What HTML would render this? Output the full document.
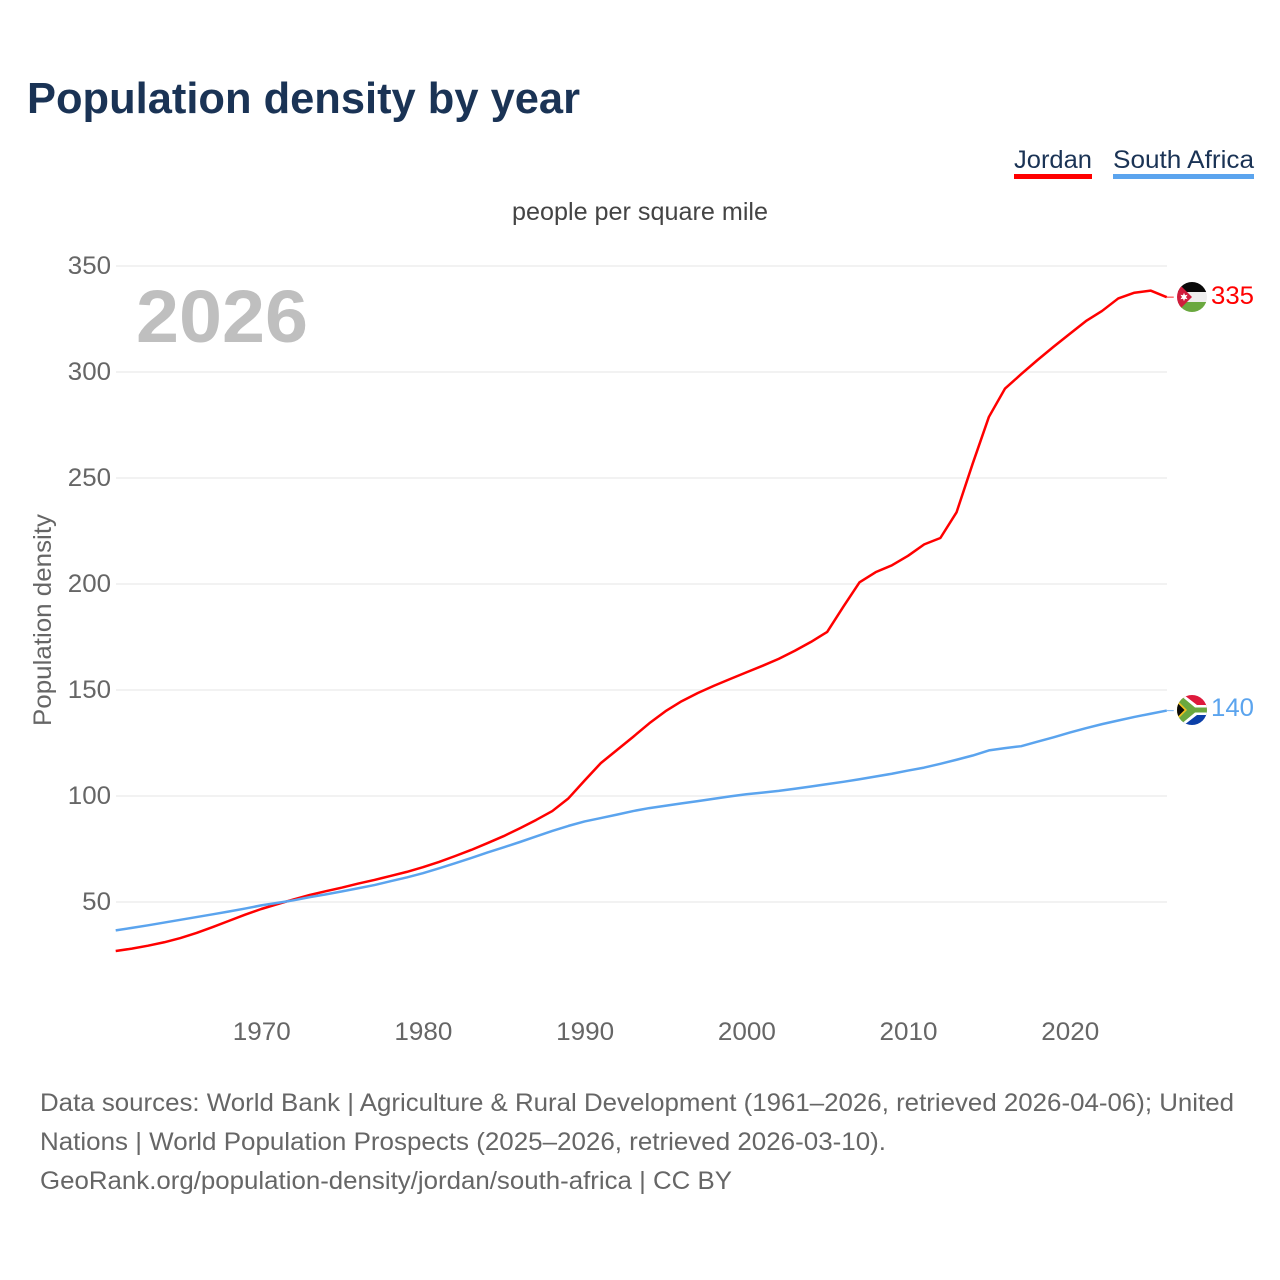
<!DOCTYPE html>
<html lang="en">
<head>
<meta charset="utf-8">
<title>Population density by year</title>
<style>
html,body{margin:0;padding:0;background:#fff;width:1280px;height:1280px;overflow:hidden}
svg{display:block}
text{font-family:"Liberation Sans",sans-serif}
</style>
</head>
<body>
<svg id="chart" width="1280" height="1280" viewBox="0 0 1280 1280" xmlns="http://www.w3.org/2000/svg">
  <defs>
    <clipPath id="flag-clip-a"><circle cx="1192" cy="297" r="15"/></clipPath>
    <clipPath id="flag-clip-b"><circle cx="1192" cy="710" r="15"/></clipPath>
  </defs>
  <rect width="1280" height="1280" fill="#fff"/>
  <text x="27" y="113" font-size="44" font-weight="700" fill="#1a3355" textLength="553" lengthAdjust="spacingAndGlyphs">Population density by year</text>

  <g>
    <text x="1014" y="168" font-size="25" fill="#1a3355" textLength="78" lengthAdjust="spacingAndGlyphs">Jordan</text>
    <rect x="1014" y="174" width="78" height="5" fill="#ff0000"/>
  </g>
  <g>
    <text x="1113" y="168" font-size="25" fill="#1a3355" textLength="141" lengthAdjust="spacingAndGlyphs">South Africa</text>
    <rect x="1113" y="174" width="141" height="5" fill="#5ba4ee"/>
  </g>

  <text x="512" y="220" font-size="25" fill="#444" textLength="256" lengthAdjust="spacingAndGlyphs">people per square mile</text>

  <g id="grid"></g>
  <g id="yticks"></g>
  <g id="xticks"></g>

  <text transform="translate(51,726) rotate(-90)" font-size="25" fill="#666" textLength="212" lengthAdjust="spacingAndGlyphs">Population density</text>
  <text x="136" y="342" font-size="74" font-weight="700" fill="#bfbfbf" textLength="172" lengthAdjust="spacingAndGlyphs">2026</text>

  <g id="series"></g>

  <g id="flag-jordan">
    <g clip-path="url(#flag-clip-a)">
      <rect x="1177" y="282" width="30" height="10" fill="#0a0a0a"/>
      <rect x="1177" y="292" width="30" height="10" fill="#eeeeee"/>
      <rect x="1177" y="302" width="30" height="10" fill="#6aa83f"/>
      <polygon points="1177,282 1192,297 1177,312" fill="#d01c3c"/>
      <polygon points="1184,292.8 1185,295.2 1187.6,294.8 1186,297 1187.6,299.2 1185,298.8 1184,301.2 1183,298.8 1180.4,299.2 1182,297 1180.4,294.8 1183,295.2" fill="#fff"/>
    </g>
  </g>
  <g id="flag-south-africa">
    <g clip-path="url(#flag-clip-b)">
      <rect x="1177" y="695" width="30" height="15" fill="#de1a3c"/>
      <rect x="1177" y="710" width="30" height="15" fill="#0b3fa8"/>
      <polygon points="1177,695 1184,695 1197,705 1207,705 1207,715 1197,715 1184,725 1177,725" fill="#fff"/>
      <polygon points="1177,696 1180,695 1195,707.5 1207,707.5 1207,712.5 1195,712.5 1180,725 1177,724" fill="#6aa83f"/>
      <polygon points="1177,700 1187,710 1177,720" fill="#f0c020"/>
      <polygon points="1177,702.5 1184.5,710 1177,717.5" fill="#0a0a0a"/>
    </g>
  </g>

  <text id="end-a" x="1211" y="304" font-size="25" fill="#ff0000" textLength="43" lengthAdjust="spacingAndGlyphs">335</text>
  <text id="end-b" x="1211" y="716" font-size="25" fill="#5ba4ee" textLength="43" lengthAdjust="spacingAndGlyphs">140</text>

  <g>
    <text x="40" y="1111" font-size="25" fill="#666" textLength="1194" lengthAdjust="spacingAndGlyphs">Data sources: World Bank | Agriculture &amp; Rural Development (1961–2026, retrieved 2026-04-06); United</text>
    <text x="40" y="1150" font-size="25" fill="#666" textLength="846" lengthAdjust="spacingAndGlyphs">Nations | World Population Prospects (2025–2026, retrieved 2026-03-10).</text>
    <text x="40" y="1189" font-size="25" fill="#666" textLength="692" lengthAdjust="spacingAndGlyphs">GeoRank.org/population-density/jordan/south-africa | CC BY</text>
  </g>
</svg>
<script>
const startYear = 1961;
const xTickYears = [1970, 1980, 1990, 2000, 2010, 2020];
const yTickValues = [50, 100, 150, 200, 250, 300, 350];
const jordanValues = [26.9, 28, 29.4, 31, 33, 35.4, 38.2, 41.1, 44, 46.7, 49, 51.2, 53.3, 55.1, 56.8, 58.7, 60.4, 62.3, 64.2, 66.4, 68.9, 71.7, 74.6, 77.8, 81.1, 84.8, 88.7, 92.9, 98.9, 107.3, 115.5, 121.7, 127.9, 134.3, 140, 144.7, 148.6, 152, 155.2, 158.3, 161.4, 164.7, 168.5, 172.7, 177.4, 189.3, 200.8, 205.6, 208.8, 213.3, 218.7, 221.7, 233.8, 256.8, 278.8, 292.2, 299, 305.6, 311.9, 318, 324, 328.8, 334.7, 337.4, 338.4, 335.3];
const southAfricaValues = [36.6, 37.8, 39, 40.3, 41.6, 42.9, 44.2, 45.5, 46.9, 48.4, 49.6, 50.8, 52.3, 53.6, 55, 56.5, 58, 59.8, 61.6, 63.6, 65.9, 68.3, 70.8, 73.4, 75.8, 78.3, 80.9, 83.5, 85.9, 88, 89.6, 91.2, 92.9, 94.3, 95.4, 96.5, 97.6, 98.7, 99.8, 100.8, 101.6, 102.4, 103.4, 104.5, 105.6, 106.7, 107.9, 109.2, 110.5, 112, 113.4, 115.2, 117.1, 119.1, 121.5, 122.6, 123.5, 125.6, 127.7, 129.9, 132, 133.9, 135.6, 137.3, 138.8, 140.3];

const NS = 'http://www.w3.org/2000/svg';
function xScale(year) { return 115.7 + (year - startYear) * (1070.5 - 262) / 50; }
function yScale(value) { return 902 - (value - 50) * (902 - 266) / 300; }

const gridG = document.getElementById('grid');
const yG = document.getElementById('yticks');
const xG = document.getElementById('xticks');
const seriesG = document.getElementById('series');

yTickValues.forEach(function (v) {
  const line = document.createElementNS(NS, 'line');
  
  
  line.setAttribute('x1', 116);
  line.setAttribute('x2', 1167);
  line.setAttribute('y1', yScale(v));
  line.setAttribute('y2', yScale(v));
  line.setAttribute('stroke', '#eeeeee');
  line.setAttribute('stroke-width', '1.5');
  gridG.appendChild(line);

  const label = document.createElementNS(NS, 'text');
  
  
  label.setAttribute('x', 111);
  label.setAttribute('y', yScale(v) + 8);
  label.setAttribute('text-anchor', 'end');
  label.setAttribute('font-size', '25');
  label.setAttribute('fill', '#666');
  label.setAttribute('textLength', String(v).length * 14.4);
  label.setAttribute('lengthAdjust', 'spacingAndGlyphs');
  label.textContent = v;
  yG.appendChild(label);
});

xTickYears.forEach(function (y) {
  const label = document.createElementNS(NS, 'text');
  
  
  label.setAttribute('x', xScale(y) + 0.5);
  label.setAttribute('y', 1040);
  label.setAttribute('text-anchor', 'middle');
  label.setAttribute('font-size', '25');
  label.setAttribute('fill', '#666');
  label.setAttribute('textLength', 58);
  label.setAttribute('lengthAdjust', 'spacingAndGlyphs');
  label.textContent = y;
  xG.appendChild(label);
});

function linePath(values) {
  return values.map(function (v, i) {
    return (i ? 'L' : 'M') + xScale(startYear + i).toFixed(2) + ' ' + yScale(v).toFixed(2);
  }).join(' ');
}

const jordanLine = document.createElementNS(NS, 'path');


jordanLine.setAttribute('d', linePath(jordanValues));
jordanLine.setAttribute('fill', 'none');
jordanLine.setAttribute('stroke', '#ff0000');
jordanLine.setAttribute('stroke-width', '2.5');
jordanLine.setAttribute('stroke-linejoin', 'round');
seriesG.appendChild(jordanLine);

const southAfricaLine = document.createElementNS(NS, 'path');


southAfricaLine.setAttribute('d', linePath(southAfricaValues));
southAfricaLine.setAttribute('fill', 'none');
southAfricaLine.setAttribute('stroke', '#5ba4ee');
southAfricaLine.setAttribute('stroke-width', '2.5');
southAfricaLine.setAttribute('stroke-linejoin', 'round');
seriesG.appendChild(southAfricaLine);

const lastYear = startYear + jordanValues.length - 1;

const jordanStub = document.createElementNS(NS, 'line');


jordanStub.setAttribute('x1', xScale(lastYear));
jordanStub.setAttribute('x2', xScale(lastYear) + 7);
jordanStub.setAttribute('y1', yScale(jordanValues[jordanValues.length - 1]));
jordanStub.setAttribute('y2', yScale(jordanValues[jordanValues.length - 1]));
jordanStub.setAttribute('stroke', '#ff0000');
jordanStub.setAttribute('stroke-width', '1.2');
jordanStub.setAttribute('opacity', '0.7');
seriesG.appendChild(jordanStub);

const southAfricaStub = document.createElementNS(NS, 'line');


southAfricaStub.setAttribute('x1', xScale(lastYear));
southAfricaStub.setAttribute('x2', xScale(lastYear) + 7);
southAfricaStub.setAttribute('y1', yScale(southAfricaValues[southAfricaValues.length - 1]));
southAfricaStub.setAttribute('y2', yScale(southAfricaValues[southAfricaValues.length - 1]));
southAfricaStub.setAttribute('stroke', '#5ba4ee');
southAfricaStub.setAttribute('stroke-width', '1.2');
southAfricaStub.setAttribute('opacity', '0.7');
seriesG.appendChild(southAfricaStub);
</script>
</body>
</html>
